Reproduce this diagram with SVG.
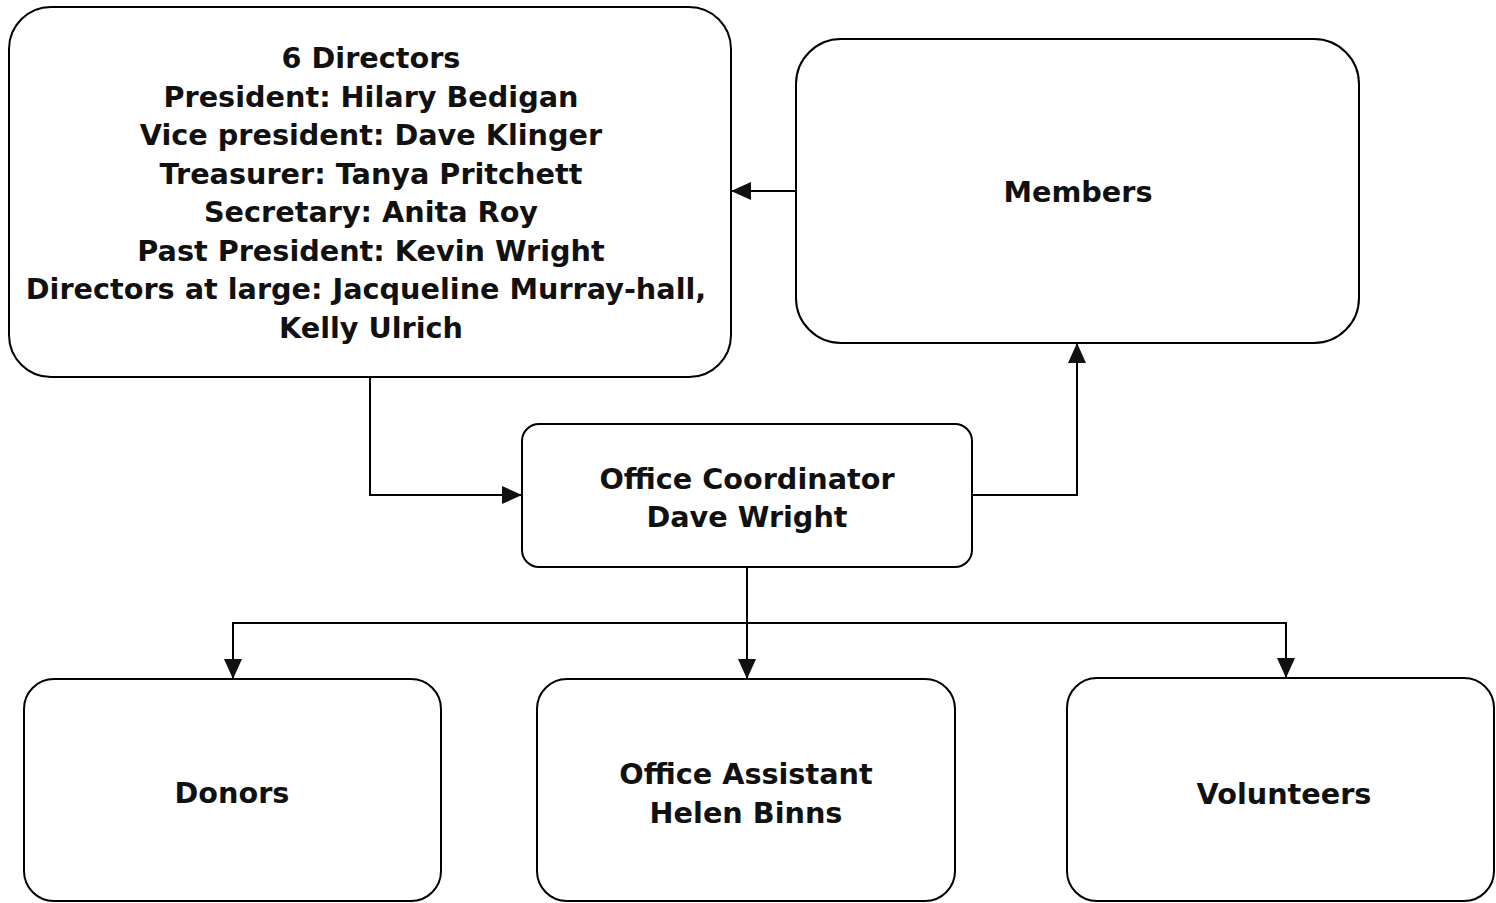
<svg xmlns="http://www.w3.org/2000/svg" width="1496" height="903" viewBox="0 0 1496 903">
<defs>
<style>
.box{fill:#fff;stroke:#000;stroke-width:2}
.t{font-family:"DejaVu Sans",Verdana,sans-serif;font-weight:bold;font-size:28.7px;fill:#111;text-anchor:middle}
.c{fill:none;stroke:#000;stroke-width:2}
</style>
<marker id="ah" viewBox="0 0 20 18" refX="20" refY="9" markerWidth="20" markerHeight="18" markerUnits="userSpaceOnUse" orient="auto">
<path d="M0,0 L20,9 L0,18 Z" fill="#111"/>
</marker>
</defs>
<rect width="1496" height="903" fill="#fff"/>
<g id="directors">
<rect class="box" x="9" y="7" width="722" height="370" rx="42"/>
<text class="t" x="371" y="68">6 Directors</text>
<text class="t" x="371" y="107">President: Hilary Bedigan</text>
<text class="t" x="371" y="145">Vice president: Dave Klinger</text>
<text class="t" x="371" y="184">Treasurer: Tanya Pritchett</text>
<text class="t" x="371" y="222">Secretary: Anita Roy</text>
<text class="t" x="371" y="261">Past President: Kevin Wright</text>
<text class="t" x="366" y="299">Directors at large: Jacqueline Murray-hall,</text>
<text class="t" x="371" y="338">Kelly Ulrich</text>
</g>
<g id="members">
<rect class="box" x="796" y="39" width="563" height="304" rx="45"/>
<text class="t" x="1078" y="202">Members</text>
</g>
<g id="coordinator">
<rect class="box" x="522" y="424" width="450" height="143" rx="17"/>
<text class="t" x="747" y="489">Office Coordinator</text>
<text class="t" x="747" y="527">Dave Wright</text>
</g>
<g id="donors">
<rect class="box" x="24" y="679" width="417" height="222" rx="30"/>
<text class="t" x="232" y="803">Donors</text>
</g>
<g id="assistant">
<rect class="box" x="537" y="679" width="418" height="222" rx="30"/>
<text class="t" x="746" y="784">Office Assistant</text>
<text class="t" x="746" y="823">Helen Binns</text>
</g>
<g id="volunteers">
<rect class="box" x="1067" y="678" width="427" height="223" rx="30"/>
<text class="t" x="1284" y="804">Volunteers</text>
</g>
<g id="connectors">
<path class="c" d="M796,191 H731" marker-end="url(#ah)"/>
<path class="c" d="M370,377 V495 H522" marker-end="url(#ah)"/>
<path class="c" d="M972,495 H1077 V343" marker-end="url(#ah)"/>
<path class="c" d="M747,567 V679" marker-end="url(#ah)"/>
<path class="c" d="M747,623 H233 V679" marker-end="url(#ah)"/>
<path class="c" d="M747,623 H1286 V678" marker-end="url(#ah)"/>
</g>
</svg>
